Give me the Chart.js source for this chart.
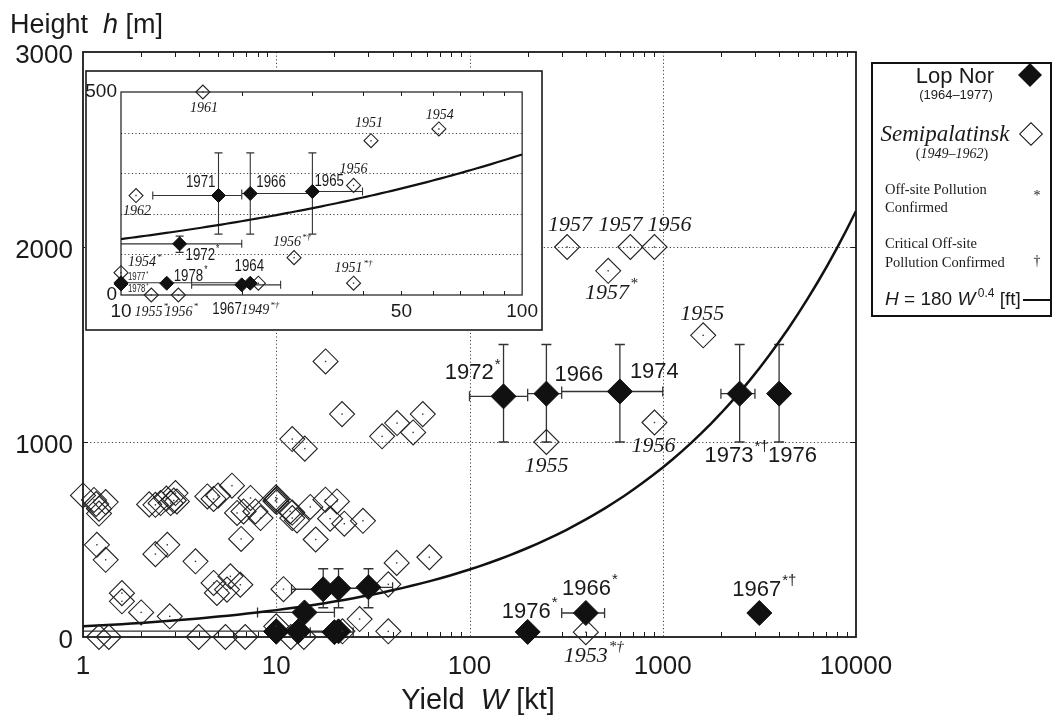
<!DOCTYPE html>
<html>
<head>
<meta charset="utf-8">
<script src="https://cdn.jsdelivr.net/npm/chart.js@4.4.1/dist/chart.umd.min.js"></script>
<style>
  body { margin: 0; background: #fff; color: #1a1a1a; font-family: "Liberation Sans", Arial, sans-serif; }
  #wrap { position: relative; width: 1056px; height: 716px; overflow: hidden; }
  canvas { position: absolute; }
  .t { position: absolute; white-space: nowrap; line-height: 1; }
  .c { transform: translate(-50%, -50%); }
  .l { transform: translate(0, -50%); }
  .serif { font-family: "Liberation Serif", "Times New Roman", serif; }
  .dia { position: absolute; width: 17px; height: 17px; box-sizing: border-box; transform: translate(-50%, -50%) rotate(45deg); }
</style>
</head>
<body>
<div id="wrap">
  <canvas id="mainChart" width="1056" height="716" style="left:0;top:0"></canvas>
  <canvas id="insetChart" width="458" height="261" style="left:85px;top:70px"></canvas>

  <span class="t" style="left:10px;top:11px;font-size:27px">Height&nbsp; <i>h</i> [m]</span>
  <span class="t c" style="left:478px;top:699px;font-size:29px">Yield&nbsp; <i>W</i> [kt]</span>

  <div style="position:absolute;left:871px;top:62px;width:181px;height:255px;border:2px solid #111;box-sizing:border-box"></div>
  <span class="t c" style="left:955px;top:76px;font-size:22px">Lop Nor</span>
  <span class="t c" style="left:956px;top:94px;font-size:13px">(1964–1977)</span>
  <div class="dia" style="left:1030px;top:75px;background:#111"></div>
  <span class="t c serif" style="left:945px;top:133px;font-size:23px;font-style:italic">Semipalatinsk</span>
  <span class="t c serif" style="left:952px;top:154px;font-size:14px">(<i>1949–1962</i>)</span>
  <div class="dia" style="left:1031px;top:134px;border:1.3px solid #111;background:#fff"></div>
  <span class="t l serif" style="left:885px;top:189px;font-size:14.5px">Off-site Pollution</span>
  <span class="t l serif" style="left:885px;top:207px;font-size:14.5px">Confirmed</span>
  <span class="t c serif" style="left:1037px;top:196px;font-size:14px">*</span>
  <span class="t l serif" style="left:885px;top:243px;font-size:14.5px">Critical Off-site</span>
  <span class="t l serif" style="left:885px;top:262px;font-size:14.5px">Pollution Confirmed</span>
  <span class="t c serif" style="left:1037px;top:261px;font-size:14px">†</span>
  <span class="t l" style="left:885px;top:297px;font-size:19px"><i>H</i> = 180 <i>W</i><sup style="font-size:12px;vertical-align:8px">&thinsp;0.4</sup> [ft]</span>
  <div style="position:absolute;left:1023px;top:299px;width:27px;height:2px;background:#111"></div>
</div>

<script>
// Lop Nor tests (filled diamonds): yield [kt], burst height [m], error ranges
const lopYear      = ['1964', '1965', '1966', '1966', '1966*', '1967', '1967*†', '1971', '1972*', '1972*', '1973*†', '1974', '1976*', '1976', '1977*', '1978*', '1978*'];
const lopYield     = [21, 30, 21, 250, 400, 20, 3160, 17.5, 14, 150, 2500, 600, 200, 4000, 10, 13, 10];
const lopHeight    = [29, 255, 250, 1248, 123, 25, 123, 245, 126, 1234, 1248, 1259, 26, 1248, 30, 29, 27];
const lopYieldLo   = [null, 30, 20, 200, 300, 15, null, 12, 8, 100, 2000, 300, null, null, 1, null, null];
const lopYieldHi   = [null, 40, 30, 300, 500, 25, null, 20, 20, 200, 3000, 1000, null, null, 20, null, null];
const lopHeightLo  = [null, 150, 150, 1000, null, null, null, 150, 105, 1000, 1000, 1000, null, 1000, null, null, null];
const lopHeightHi  = [null, 350, 350, 1500, null, null, null, 350, 145, 1500, 1500, 1500, null, 1500, null, null, null];

// Semipalatinsk tests (open diamonds)
const semiYear = ['1957', '1957', '1956', '1957*', '1955', '1955', '1956', '1953*†',
  '1961', '1951', '1954', '1956', '1962', '1956*†', '1951*†', '1954*', '1955*', '1956*', '1949*†'];
const semiYield = [320, 680, 906, 522, 1619, 250, 906, 400,
  16, 42, 62, 38, 10.9, 27, 38, 10, 11.9, 13.9, 22,
  1.0, 1.14, 1.31, 1.21, 1.21, 1.17, 1.18, 1.31,
  1.21, 1.36, 3.97, 5.46, 6.91,
  1.59, 1.59, 2.0, 2.81,
  2.2, 2.37, 2.52, 2.84, 3.01, 2.7, 2.95, 3.06,
  2.37, 2.73, 3.82,
  4.4, 4.74, 5.0, 5.9, 4.74, 5.79, 5.56, 4.93, 6.52, 6.58,
  7.36, 6.77, 7.8, 8.29, 6.27,
  10, 10.1, 9.9, 10.05, 9.95,
  11.8, 12.1, 12.8, 15.0, 17.97, 20.6, 19.0, 22.5, 28.1, 12.1,
  18.0, 21.9, 12.1, 14.05, 35.3, 42.2, 51.1, 57.3];
const semiHeight = [2000, 2000, 2000, 1878, 1547, 1000, 1100, 25,
  500, 380, 409, 270, 245, 92, 29, 55, 0, 0, 29,
  726, 703, 692, 658, 633, 682, 473, 396,
  0, 0, 0, 0, 0,
  225, 183, 126, 106,
  680, 678, 687, 687, 738, 710, 700, 695,
  425, 473, 388,
  721, 708, 725, 776, 277, 311, 243, 226, 268, 503,
  713, 644, 644, 610, 636,
  704, 710, 698, 692, 715,
  644, 610, 598, 667, 704, 695, 607, 581, 596, 638,
  1413, 1143, 1015, 966, 1029, 1097, 1049, 1143];

// axes
const xTickLabels = [1, 10, 100, 1000, 10000];
const yTickLabels = [0, 1000, 2000, 3000];
const insetXTickLabels = [10, 50, 100];
const insetYTickLabels = [0, 500];

// fitted curve from the legend: H = 180 W^0.4 [ft]
const curveCoefFt = 180;
const curveExp = 0.4;
const ftToM = 0.3048;

function curvePoints(wMin, wMax, n) {
  const pts = [];
  for (let i = 0; i <= n; i++) {
    const w = Math.pow(10, Math.log10(wMin) + (Math.log10(wMax) - Math.log10(wMin)) * i / n);
    pts.push({ x: w, y: curveCoefFt * Math.pow(w, curveExp) * ftToM });
  }
  return pts;
}

const lopPts = lopYield.map((w, i) => ({ x: w, y: lopHeight[i] }));
const semiPts = semiYield.map((w, i) => ({ x: w, y: semiHeight[i] }));

// where each year label sits next to its marker: [dx, dy, align, small]
const mainLopLabels = {
  3: [8, -19, 'left'], 4: [4, -24, 'center'], 6: [5, -23, 'center'], 9: [-3, -23, 'right'],
  10: [-3, 62, 'center'], 11: [10, -20, 'left'], 12: [2, -20, 'center'], 13: [-11, 62, 'left']
};
const mainSemiLabels = {
  0: [3, -22, 'center'], 1: [-10, -22, 'center'], 2: [15, -22, 'center'], 3: [3, 22, 'center'],
  4: [-1, -21, 'center'], 5: [0, 24, 'center'], 6: [-1, 24, 'center'], 7: [8, 24, 'center']
};
const insetLopLabels = {
  0: [-1, -17, 'center'], 1: [2, -10, 'left'], 2: [6, -11, 'left'], 5: [0, 24, 'right'],
  7: [-3, -13, 'right'], 8: [6, 11, 'left'], 14: [7, -6, 'left', true], 15: [7, -7, 'left'],
  16: [7, 5, 'left', true]
};
const insetSemiLabels = {
  8: [1, 16, 'center'], 9: [-2, -17, 'center'], 10: [1, -14, 'center'], 11: [0, -16, 'center'],
  12: [1, 16, 'center'], 13: [-2, -15, 'center'], 14: [0, -15, 'center'], 15: [7, -10, 'left'],
  16: [0, 17, 'center'], 17: [3, 17, 'center'], 18: [2, 27, 'center']
};

function drawYear(ctx, text, x, y, align, f, small) {
  const m = text.match(/^(\d+)(.*)$/);
  const base = m[1], sup = m[2];
  const baseFont = small ? f.small : f.base;
  const supFont = small ? f.smallSup : f.sup;
  const sx = f.squeeze || 1;
  ctx.font = baseFont;
  const wb = ctx.measureText(base).width * sx;
  ctx.font = supFont;
  const ws = sup ? ctx.measureText(sup).width * sx + 1 : 0;
  const w = wb + ws;
  const left = align === 'left' ? x : align === 'right' ? x - w : x - w / 2;
  ctx.save();
  ctx.translate(left, y);
  ctx.scale(sx, 1);
  ctx.textAlign = 'left';
  ctx.textBaseline = 'middle';
  ctx.fillStyle = '#1a1a1a';
  ctx.font = baseFont;
  ctx.fillText(base, 0, 0);
  if (sup) {
    ctx.font = supFont;
    ctx.fillText(sup, (wb + 1) / sx, -(small ? f.raise / 2 : f.raise));
  }
  ctx.restore();
}

function decor(cfg) {
  return {
    id: 'decor',
    beforeDraw(chart) {
      if (!cfg.background) return;
      const ctx = chart.ctx;
      ctx.save();
      ctx.fillStyle = '#fff';
      ctx.fillRect(0, 0, chart.width, chart.height);
      ctx.strokeStyle = '#1a1a1a';
      ctx.lineWidth = 1.6;
      ctx.strokeRect(1, 1, chart.width - 2, chart.height - 2);
      ctx.restore();
    },
    beforeDatasetsDraw(chart) {
      const { ctx, chartArea: a, scales: { x, y } } = chart;
      ctx.save();
      // dotted grid
      ctx.strokeStyle = '#444';
      ctx.lineWidth = 1;
      ctx.setLineDash([1.2, 2.4]);
      ctx.beginPath();
      cfg.gridX.forEach(v => {
        const px = Math.round(x.getPixelForValue(v)) + 0.5;
        ctx.moveTo(px, a.top); ctx.lineTo(px, a.bottom);
      });
      cfg.gridY.forEach(v => {
        const py = Math.round(y.getPixelForValue(v)) + 0.5;
        ctx.moveTo(a.left, py); ctx.lineTo(a.right, py);
      });
      ctx.stroke();
      ctx.setLineDash([]);
      // minor log ticks, inward, bottom and top
      ctx.strokeStyle = '#1a1a1a';
      ctx.lineWidth = 1;
      ctx.beginPath();
      for (let d = x.min; d < x.max; d *= 10) {
        for (let k = 2; k <= 9; k++) {
          const px = Math.round(x.getPixelForValue(k * d)) + 0.5;
          ctx.moveTo(px, a.bottom); ctx.lineTo(px, a.bottom - cfg.tickLen);
          ctx.moveTo(px, a.top); ctx.lineTo(px, a.top + cfg.tickLen);
        }
      }
      cfg.yTicks.forEach(v => {
        const py = Math.round(y.getPixelForValue(v)) + 0.5;
        ctx.moveTo(a.left, py); ctx.lineTo(a.left + cfg.tickLen, py);
        ctx.moveTo(a.right, py); ctx.lineTo(a.right - cfg.tickLen, py);
      });
      ctx.stroke();
      // error bars
      ctx.save();
      ctx.beginPath();
      ctx.rect(a.left, a.top - 2, a.right - a.left, a.bottom - a.top + 4);
      ctx.clip();
      ctx.strokeStyle = '#333';
      ctx.lineWidth = cfg.barWidth;
      ctx.beginPath();
      lopYield.forEach((w, i) => {
        const px = x.getPixelForValue(w), py = y.getPixelForValue(lopHeight[i]);
        if (lopYieldLo[i] != null) {
          const x0 = x.getPixelForValue(lopYieldLo[i]), x1 = x.getPixelForValue(lopYieldHi[i]);
          ctx.moveTo(x0, py); ctx.lineTo(x1, py);
          ctx.moveTo(x0, py - cfg.cap); ctx.lineTo(x0, py + cfg.cap);
          ctx.moveTo(x1, py - cfg.cap); ctx.lineTo(x1, py + cfg.cap);
        }
        if (lopHeightLo[i] != null) {
          const y0 = y.getPixelForValue(lopHeightLo[i]), y1 = y.getPixelForValue(lopHeightHi[i]);
          ctx.moveTo(px, y0); ctx.lineTo(px, y1);
          ctx.moveTo(px - cfg.cap, y0); ctx.lineTo(px + cfg.cap, y0);
          ctx.moveTo(px - cfg.cap, y1); ctx.lineTo(px + cfg.cap, y1);
        }
      });
      ctx.stroke();
      ctx.restore();
      // frame
      ctx.strokeStyle = '#1a1a1a';
      ctx.lineWidth = cfg.frameWidth;
      ctx.strokeRect(a.left, a.top, a.right - a.left, a.bottom - a.top);
      ctx.restore();
    },
    afterDatasetsDraw(chart) {
      const ctx = chart.ctx;
      const a = chart.chartArea;
      ctx.save();
      // small centre dot on open diamonds
      ctx.fillStyle = '#333';
      chart.getDatasetMeta(1).data.forEach(el => {
        if (cfg.clipDots && (el.x < a.left - 8 || el.x > a.right + 8 || el.y < a.top - 8 || el.y > a.bottom + 8)) return;
        ctx.fillRect(el.x - 0.7, el.y - 0.7, 1.4, 1.4);
      });
      const semiEls = chart.getDatasetMeta(1).data;
      Object.entries(cfg.semiLabels).forEach(([i, p]) => {
        const el = semiEls[i];
        drawYear(ctx, semiYear[i], el.x + p[0], el.y + p[1], p[2], cfg.semiFont, p[3]);
      });
      const lopEls = chart.getDatasetMeta(2).data;
      Object.entries(cfg.lopLabels).forEach(([i, p]) => {
        const el = lopEls[i];
        drawYear(ctx, lopYear[i], el.x + p[0], el.y + p[1], p[2], cfg.lopFont, p[3]);
      });
      ctx.restore();
    }
  };
}

function datasets(radius, clip, wMin, wMax, curveWidth) {
  return [
    { type: 'line', label: 'H = 180 W^0.4 [ft]', data: curvePoints(wMin, wMax, 80),
      borderColor: '#111', borderWidth: curveWidth, pointRadius: 0, fill: false, tension: 0, order: 3 },
    { label: 'Semipalatinsk', data: semiPts, pointStyle: 'rectRot', pointRadius: radius,
      backgroundColor: 'rgba(0,0,0,0)', borderColor: '#222', borderWidth: 1.1, clip: clip, order: 2 },
    { label: 'Lop Nor', data: lopPts, pointStyle: 'rectRot', pointRadius: radius,
      backgroundColor: '#111', borderColor: '#111', borderWidth: 1, clip: clip, order: 1 }
  ];
}

const tickFont = { family: 'Liberation Sans', size: 26 };
const insetTickFont = { family: 'Liberation Sans', size: 19 };

new Chart(document.getElementById('mainChart'), {
  type: 'scatter',
  data: { datasets: datasets(12.5, false, 1, 10000, 2.5) },
  options: {
    responsive: false,
    animation: false,
    events: [],
    layout: { padding: { left: 0, top: 52, right: 200, bottom: 0 } },
    plugins: { legend: { display: false }, tooltip: { enabled: false } },
    scales: {
      x: {
        type: 'logarithmic', min: 1, max: 10000,
        grid: { display: false, drawTicks: false }, border: { display: false },
        ticks: { autoSkip: false, maxRotation: 0, padding: 14, color: '#1a1a1a', font: tickFont,
          callback: v => xTickLabels.includes(v) ? String(v) : '' },
        afterFit: s => { s.height = 79; }
      },
      y: {
        min: 0, max: 3000,
        grid: { display: false, drawTicks: false }, border: { display: false },
        ticks: { stepSize: 1000, padding: 10, labelOffset: 4, color: '#1a1a1a', font: tickFont,
          callback: v => yTickLabels.includes(v) ? String(v) : '' },
        afterFit: s => { s.width = 83; }
      }
    }
  },
  plugins: [decor({
    gridX: [10, 100, 1000], gridY: [1000, 2000], yTicks: [1000, 2000],
    tickLen: 5, cap: 5, barWidth: 1.3, frameWidth: 1.8,
    lopLabels: mainLopLabels, semiLabels: mainSemiLabels,
    lopFont: { base: '22px "Liberation Sans"', sup: '15px "Liberation Sans"', small: '22px "Liberation Sans"', smallSup: '15px "Liberation Sans"', raise: 9 },
    semiFont: { base: 'italic 22px "Liberation Serif"', sup: 'italic 15px "Liberation Serif"', small: 'italic 22px "Liberation Serif"', smallSup: 'italic 15px "Liberation Serif"', raise: 9 }
  })]
});

new Chart(document.getElementById('insetChart'), {
  type: 'scatter',
  data: { datasets: datasets(7, 8, 10, 100, 2.2) },
  options: {
    responsive: false,
    animation: false,
    events: [],
    layout: { padding: { left: 0, top: 22, right: 20, bottom: 0 } },
    plugins: { legend: { display: false }, tooltip: { enabled: false } },
    scales: {
      x: {
        type: 'logarithmic', min: 10, max: 100,
        grid: { display: false, drawTicks: false }, border: { display: false },
        ticks: { autoSkip: false, maxRotation: 0, padding: 5, color: '#1a1a1a', font: insetTickFont,
          callback: v => insetXTickLabels.includes(v) ? String(v) : '' },
        afterFit: s => { s.height = 36; }
      },
      y: {
        min: 0, max: 500,
        grid: { display: false, drawTicks: false }, border: { display: false },
        ticks: { stepSize: 100, padding: 4, color: '#1a1a1a', font: insetTickFont,
          callback: v => insetYTickLabels.includes(v) ? String(v) : '' },
        afterFit: s => { s.width = 36; }
      }
    }
  },
  plugins: [decor({
    background: true, clipDots: true,
    gridX: [], gridY: [100, 200, 300, 400], yTicks: [],
    tickLen: 4, cap: 4, barWidth: 1.1, frameWidth: 1.2,
    lopLabels: insetLopLabels, semiLabels: insetSemiLabels,
    lopFont: { base: '17px "Liberation Sans"', sup: '11px "Liberation Sans"', small: '10px "Liberation Sans"', smallSup: '7px "Liberation Sans"', raise: 6, squeeze: 0.78 },
    semiFont: { base: 'italic 14px "Liberation Serif"', sup: 'italic 9px "Liberation Serif"', small: 'italic 9px "Liberation Serif"', smallSup: 'italic 7px "Liberation Serif"', raise: 5 }
  })]
});
</script>
</body>
</html>
